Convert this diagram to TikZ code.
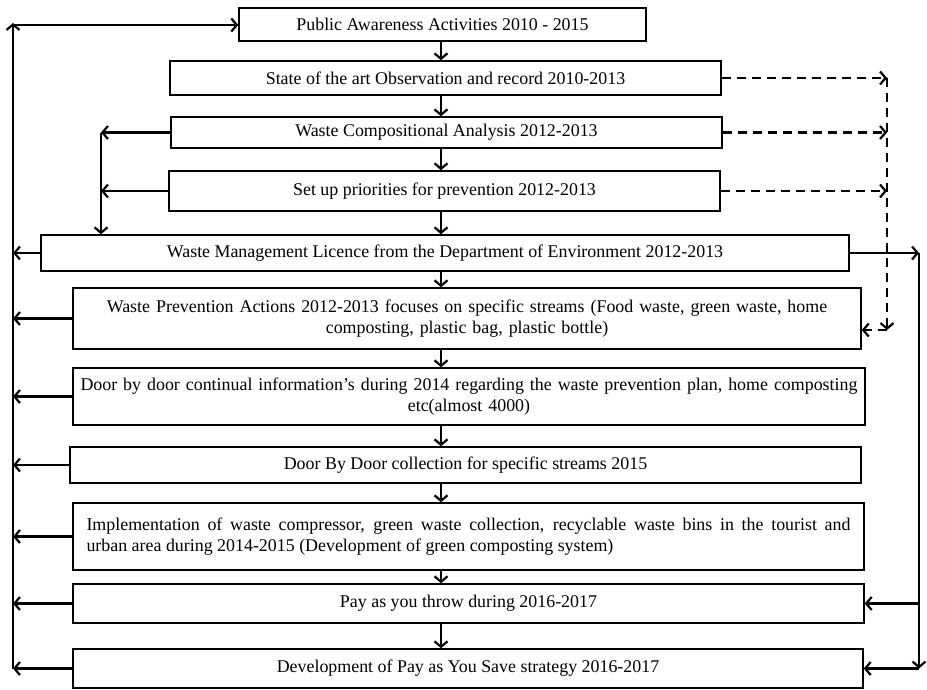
\documentclass[tikz,border=0pt]{standalone}
\usepackage{fontspec}
\setmainfont{Liberation Serif}
\usetikzlibrary{arrows.meta}
\tikzset{
    flow-box/.style = {draw=black, fill=white, line width=1.5pt, rectangle, inner sep=0pt, font=\fontsize{17.9}{21}\selectfont},
    flow-arrow/.style = {line width=2.2pt, -{Straight Barb[length=5.5pt,width=13pt]}},
    dash-arrow/.style = {flow-arrow, dash pattern=on 9pt off 6pt},
}

\begin{document}
\begin{tikzpicture}[x=1pt, y=-1pt]
\useasboundingbox (0,0) rectangle (927,689);

% stages of the plan
\node[flow-box, minimum width=407pt, minimum height=33pt] (pub) at (442.5,24.5) {Public Awareness Activities 2010 - 2015};
\node[flow-box, minimum width=551pt, minimum height=34pt] (state) at (445.5,78) {State of the art Observation and record 2010-2013};
\node[flow-box, minimum width=551pt, minimum height=31pt] (comp) at (446.5,132.5) {Waste Compositional Analysis 2012-2013};
\node[flow-box, minimum width=551pt, minimum height=40pt] (prio) at (444.5,191) {Set up priorities for prevention 2012-2013};
\node[flow-box, minimum width=808pt, minimum height=36pt] (lic) at (445,253) {Waste Management Licence from the Department of Environment 2012-2013};
\node[flow-box, minimum width=788pt, minimum height=61pt, text width=780pt, align=center] (prev) at (467,318.5)
    {Waste Prevention Actions 2012-2013 focuses on specific streams (Food waste, green waste, home\\ composting, plastic bag, plastic bottle)};
\node[flow-box, minimum width=792pt, minimum height=57pt, text width=784pt, align=center] (info) at (469,396.5)
    {Door by door continual information’s during 2014 regarding the waste prevention plan, home composting\\ etc(almost 4000)};
\node[flow-box, minimum width=791pt, minimum height=36pt] (coll) at (465.5,465) {Door By Door collection for specific streams 2015};
\node[flow-box, minimum height=67pt, text width=764pt, inner xsep=13.5pt, align=justify] (impl) at (468.5,536.5)
    {Implementation of waste compressor, green waste collection, recyclable waste bins in the tourist and\linebreak urban area during 2014-2015 (Development of green composting system)};
\node[flow-box, minimum width=791pt, minimum height=39pt] (payt) at (468.5,603.5) {Pay as you throw during 2016-2017};
\node[flow-box, minimum width=790pt, minimum height=39pt] (pays) at (468,668.5) {Development of Pay as You Save strategy 2016-2017};

% bus lines
\coordinate (mid) at (441,0);
\coordinate (ltop) at (13,25);
\coordinate (lbot) at (13,669);
\coordinate (ibus) at (101,0);
\coordinate (dbus) at (887,0);
\coordinate (dend) at (887,330);
\coordinate (rbus) at (919,0);

% main sequence
\foreach \a/\b in {pub/state, state/comp, comp/prio, prio/lic, lic/prev, prev/info, info/coll, coll/impl, impl/payt, payt/pays}
    \draw[flow-arrow] (\a.south -| mid) -- (\b.north -| mid);

% feedback on the left
\draw[flow-arrow] (lbot) -- ([yshift=2pt]ltop);
\draw[flow-arrow] (ltop) -- (ltop -| pub.west);
\foreach \n in {lic, prev, info, coll, impl, payt, pays}
    \draw[flow-arrow] (\n.west) -- (\n.west -| lbot);

\foreach \n in {comp, prio}
    \draw[flow-arrow] (\n.west) -- (\n.west -| ibus);
\draw[flow-arrow] (comp.west -| ibus) -- (ibus |- lic.north);

% dashed links on the right
\foreach \n in {state, comp, prio}
    \draw[dash-arrow] (\n.east) -- (\n.east -| dbus);
\draw[dash-arrow] (state.east -| dbus) -- (dend);
\draw[dash-arrow] (dend) -- (dend -| prev.east);

% licence links on the right
\draw[flow-arrow] (lic.east) -- (lic.east -| rbus);
\draw[flow-arrow] (lic.east -| rbus) -- (rbus |- pays.east);
\draw[flow-arrow] (rbus |- payt.east) -- (payt.east);
\draw[flow-arrow] (rbus |- pays.east) -- (pays.east);
\end{tikzpicture}
\end{document}
